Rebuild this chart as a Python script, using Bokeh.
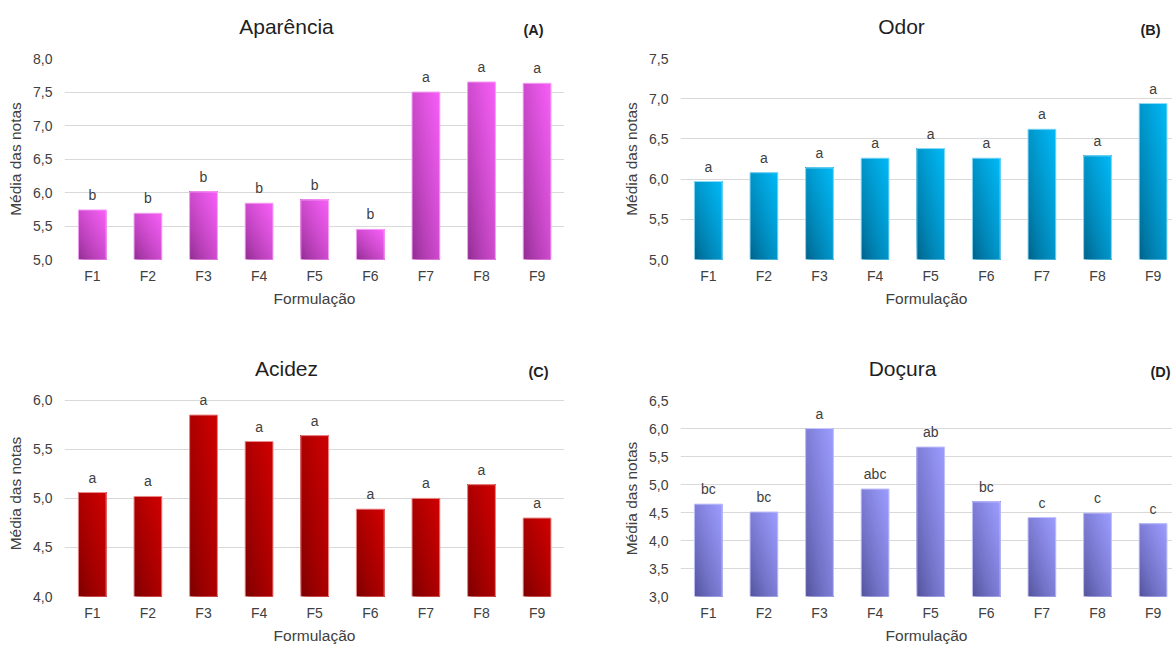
import numpy as np
from bokeh.plotting import figure
from bokeh.layouts import column, row
from bokeh.models import Range1d, FixedTicker, CustomJSTickFormatter, ColumnDataSource
from bokeh.core.properties import value
from bokeh.embed import file_html
from bokeh.resources import INLINE

# --- data -------------------------------------------------------------
formulacoes = ["F1", "F2", "F3", "F4", "F5", "F6", "F7", "F8", "F9"]

aparencia = [5.74, 5.69, 6.01, 5.84, 5.89, 5.45, 7.50, 7.65, 7.63]
aparencia_letras = ["b", "b", "b", "b", "b", "b", "a", "a", "a"]

odor = [5.97, 6.08, 6.14, 6.26, 6.38, 6.26, 6.62, 6.29, 6.94]
odor_letras = ["a", "a", "a", "a", "a", "a", "a", "a", "a"]

acidez = [5.06, 5.02, 5.85, 5.58, 5.64, 4.89, 5.00, 5.14, 4.80]
acidez_letras = ["a", "a", "a", "a", "a", "a", "a", "a", "a"]

docura = [4.65, 4.51, 6.00, 4.92, 5.67, 4.69, 4.41, 4.49, 4.30]
docura_letras = ["bc", "bc", "a", "abc", "ab", "bc", "c", "c", "c"]

FONT = "Liberation Sans"
TXT = "#404040"
W, H = 586, 323
PPX = 55.6  # pixels per category


def hex2rgb(h):
    h = h.lstrip("#")
    return np.array([int(h[i:i + 2], 16) for i in (0, 2, 4)], dtype=float)


def rgb2hex(c):
    return "#%02x%02x%02x" % tuple(int(round(v)) for v in c)


def canto_superior(s):
    """Part of the unit square with u + w >= s, as (u, w) vertex lists."""
    if s <= 1:
        return [s, 1, 1, 0, 0], [0, 0, 1, 1, s]
    return [1, 1, s - 1], [s - 1, 1, 1]


def cabecalho(titulo, tag, pos, altura, esq, dir_):
    """Strip above a chart holding its title and panel tag.

    Its frame lines up with the chart frame below it, so the x range is set
    to run in canvas pixels over that frame."""
    h = figure(width=W, height=altura, x_range=Range1d(esq, W - dir_),
               y_range=Range1d(altura, 0), output_backend="svg",
               toolbar_location=None, x_axis_location=None,
               y_axis_location=None, min_border_left=esq,
               min_border_right=dir_, min_border_top=0, min_border_bottom=0,
               outline_line_color=None, border_fill_color="white")
    h.grid.visible = False
    tit_x, tit_y, tag_x, tag_y = pos
    h.text(x=[tit_x], y=[tit_y], text=[titulo], text_align="center",
           text_baseline="middle", text_font=value(FONT),
           text_font_size="21px", text_color="#1f1f1f")
    h.text(x=[tag_x], y=[tag_y], text=[tag], text_align="center",
           text_baseline="middle", text_font=value(FONT),
           text_font_size="14.5px", text_font_style="bold",
           text_color="#1f1f1f")
    return h


def grafico(valores, letras, y0, y1, passo, escuro, claro, contorno,
            esq, dir_, altura, base, folga=0):
    # folga: extra room (px) above the top gridline inside the frame, so
    # letters near the top are not clipped
    ppy = (altura - 10 - base) / (y1 - y0)
    x_fim = 0.5 + (W - esq - dir_) / PPX
    p = figure(width=W, height=altura,
               x_range=Range1d(0.5, x_fim),
               y_range=Range1d(y0, y1 + folga / ppy),
               output_backend="svg", toolbar_location=None,
               min_border_left=esq, min_border_right=dir_,
               min_border_top=10 - folga, min_border_bottom=base,
               outline_line_color=None,
               background_fill_color="white", border_fill_color="white")

    xs = np.arange(1, len(valores) + 1)
    meia = 0.25
    yt = list(np.arange(y0, y1 + 1e-9, passo))

    # bars with a diagonal gradient (dark bottom-left -> light top-right):
    # each bar is painted with nested corner regions u + w >= s, lighter
    # ones drawn last
    c0, c1 = hex2rgb(escuro), hex2rgb(claro)
    nb = 60
    PX, PY, C = [], [], []
    for xc, v in zip(xs, valores):
        for k in range(nb):
            s = 2.0 * k / nb
            t = ((s + 1.0 / nb) / 2.0) ** 0.7
            us, ws = canto_superior(s)
            PX.append([xc - meia + u * 2 * meia for u in us])
            PY.append([y0 + w * (v - y0) for w in ws])
            C.append(rgb2hex(c0 + (c1 - c0) * t))
    src = ColumnDataSource(dict(xs=PX, ys=PY, cor=C))
    p.patches(xs="xs", ys="ys", fill_color="cor", line_color=None, source=src)

    barras = ColumnDataSource(dict(x=xs, top=valores, letra=letras))
    p.vbar(x="x", top="top", bottom=y0, width=2 * meia, source=barras,
           fill_color=None, line_color=contorno, line_width=1)

    p.text(x="x", y="top", text="letra", source=barras,
           text_align="center", text_baseline="alphabetic", y_offset=-15,
           text_font=value(FONT), text_font_size="14px", text_color=TXT)

    # axes
    p.yaxis.ticker = FixedTicker(ticks=yt)
    p.ygrid.ticker = FixedTicker(ticks=yt)
    p.yaxis.formatter = CustomJSTickFormatter(
        code="return tick.toFixed(1).replace('.', ',');")
    p.xaxis.ticker = FixedTicker(ticks=list(xs))
    p.xaxis.formatter = CustomJSTickFormatter(
        args=dict(nomes=formulacoes),
        code="return nomes[Math.round(tick) - 1] || '';")

    for ax in (p.xaxis, p.yaxis):
        ax.axis_line_color = None
        ax.major_tick_line_color = None
        ax.minor_tick_line_color = None
        ax.major_tick_out = 0
        ax.major_tick_in = 0
        ax.major_label_text_font = FONT
        ax.major_label_text_font_size = "14px"
        ax.major_label_text_color = TXT
        ax.axis_label_text_font = FONT
        ax.axis_label_text_font_size = "15.5px"
        ax.axis_label_text_font_style = "normal"
        ax.axis_label_text_color = TXT
    p.yaxis.major_label_standoff = 12
    p.yaxis.axis_label_standoff = 6
    p.xaxis.major_label_standoff = 8
    p.xaxis.axis_label_standoff = 3
    p.yaxis.axis_label = "Média das notas"
    p.xaxis.axis_label = "Formulação"
    p.xgrid.grid_line_color = None
    p.ygrid.grid_line_color = "#d9d9d9"
    p.ygrid.grid_line_width = 1
    return p


# top row: plot area from y=58 to y=259; bottom row: y=400 to y=600
cab_A = cabecalho("Aparência", "(A)", (286, 26, 533, 29), 48, 64, 22)
pA = grafico(aparencia, aparencia_letras, 5.0, 8.0, 0.5,
             "#8a2a8a", "#f75ff7", "#f6a8f6", 64, 22, 275, 64)
cab_B = cabecalho("Odor", "(B)", (315, 26, 564, 29), 48, 94, 0)
pB = grafico(odor, odor_letras, 5.0, 7.5, 0.5,
             "#005c82", "#00b9f6", "#8fdcf8", 94, 0, 275, 64)
cab_C = cabecalho("Acidez", "(C)", (286, 45, 538, 48), 67, 64, 22)
pC = grafico(acidez, acidez_letras, 4.0, 6.0, 0.5,
             "#760000", "#cf0000", "#eb9090", 64, 22, 256, 46, folga=10)
cab_D = cabecalho("Doçura", "(D)", (316, 45, 574, 48), 67, 94, 0)
pD = grafico(docura, docura_letras, 3.0, 6.5, 0.5,
             "#4d4d94", "#9c9cff", "#c6c6fb", 94, 0, 256, 46)

layout = column(
    row(column(cab_A, pA, spacing=0), column(cab_B, pB, spacing=0), spacing=0),
    row(column(cab_C, pC, spacing=0), column(cab_D, pD, spacing=0), spacing=0),
    spacing=0)

open("out.html", "w").write(file_html(layout, INLINE))
